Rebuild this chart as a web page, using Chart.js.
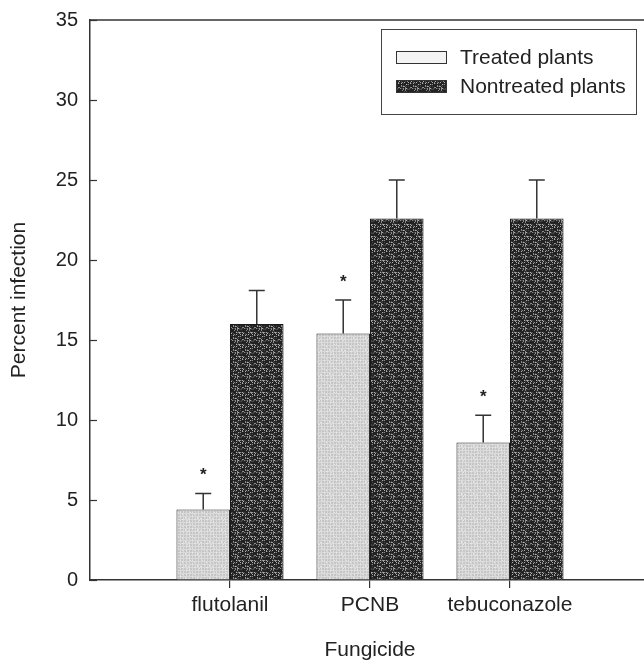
<!DOCTYPE html>
<html>
<head>
<meta charset="utf-8">
<script src="https://cdn.jsdelivr.net/npm/chart.js@4/dist/chart.umd.min.js"></script>
<style>
  html, body { margin: 0; padding: 0; background: #fff; overflow: hidden; }
  #wrap { width: 660px; height: 665px; }
</style>
</head>
<body>
<div id="wrap"><canvas id="chart" width="660" height="665"></canvas></div>
<script>
// data
var categories = ["flutolanil", "PCNB", "tebuconazole"];
var treated = [4.4, 15.4, 8.6];
var treatedErr = [1.0, 2.1, 1.7];
var nontreated = [16.0, 22.6, 22.6];
var nontreatedErr = [2.1, 2.4, 2.4];
var significant = [true, true, true];
var yTicks = [0, 5, 10, 15, 20, 25, 30, 35];

var FONT = "'Liberation Sans', Arial, Helvetica, sans-serif";

// small textured fills, like the scanned original
function makePattern(kind) {
  var c = document.createElement("canvas");
  c.width = 12;
  c.height = 12;
  var g = c.getContext("2d");
  for (var i = 0; i < 12; i++) {
    for (var j = 0; j < 12; j++) {
      var h = ((i * 73856093) ^ (j * 19349663) ^ (i * j * 83492791)) >>> 0;
      var v = h % 100;
      if (kind === "light") {
        var col = (i % 3 === 0 || j % 3 === 0) ? "#dadada" : "#c6c6c6";
        if (v < 8) col = "#e6e6e6";
        g.fillStyle = col;
      } else {
        var d = "#222222";
        if (v < 13) d = "#8c8c8c";
        else if (v < 30) d = "#454545";
        else if (v < 35) d = "#b0b0b0";
        g.fillStyle = d;
      }
      g.fillRect(i, j, 1, 1);
    }
  }
  return c;
}

var ctx = document.getElementById("chart").getContext("2d");
var lightFill = ctx.createPattern(makePattern("light"), "repeat");
var darkFill = ctx.createPattern(makePattern("dark"), "repeat");

function toPoints(vals) {
  return vals.map(function(v, i) {
    return { x: i + 1, y: v };
  });
}

var extras = {
  id: "extras",
  afterDatasetsDraw: function(chart) {
    var c = chart.ctx;
    var ys = chart.scales.y;
    var area = chart.chartArea;
    var errs = [treatedErr, nontreatedErr];
    c.save();

    // frame top line
    c.strokeStyle = "#333";
    c.lineWidth = 1.5;
    c.beginPath();
    c.moveTo(area.left, area.top);
    c.lineTo(chart.width, area.top);
    c.stroke();

    // inward y ticks
    c.lineWidth = 1.2;
    yTicks.forEach(function(t) {
      var py = Math.round(ys.getPixelForValue(t)) + 0.5;
      c.beginPath();
      c.moveTo(area.left, py);
      c.lineTo(area.left + 7, py);
      c.stroke();
    });

    // error bars (upper only) and significance stars
    chart.data.datasets.forEach(function(ds, di) {
      var meta = chart.getDatasetMeta(di);
      meta.data.forEach(function(bar, i) {
        var top = ys.getPixelForValue(ds.data[i].y + errs[di][i]);
        c.strokeStyle = "#333";
        c.lineWidth = 1.5;
        c.beginPath();
        c.moveTo(bar.x, bar.y);
        c.lineTo(bar.x, top);
        c.moveTo(bar.x - 8, top);
        c.lineTo(bar.x + 8, top);
        c.stroke();
        if (di === 0 && significant[i]) {
          c.fillStyle = "#222";
          c.font = "bold 17px " + FONT;
          c.textAlign = "center";
          c.textBaseline = "middle";
          c.fillText("*", bar.x, top - 18);
        }
      });
    });

    // legend box
    c.strokeStyle = "#444";
    c.lineWidth = 1;
    c.strokeRect(381.5, 29.5, 255, 85);
    var sw = [
      { fill: "#f4f4f4", y: 51, label: chart.data.datasets[0].label },
      { fill: darkFill, y: 80, label: chart.data.datasets[1].label }
    ];
    sw.forEach(function(s) {
      c.fillStyle = s.fill;
      c.fillRect(396, s.y, 51, 13);
      c.strokeStyle = "#333";
      c.strokeRect(396.5, s.y + 0.5, 50, 12);
      c.fillStyle = "#222";
      c.font = "21px " + FONT;
      c.textAlign = "left";
      c.textBaseline = "middle";
      c.fillText(s.label, 460, s.y + 7);
    });
    c.restore();
  }
};

new Chart(ctx, {
  type: "bar",
  data: {
    datasets: [{
      label: "Treated plants",
      data: toPoints(treated),
      backgroundColor: lightFill,
      borderColor: "#2a2a2a",
      borderWidth: 1
    }, {
      label: "Nontreated plants",
      data: toPoints(nontreated),
      backgroundColor: darkFill,
      borderColor: "#1a1a1a",
      borderWidth: 1
    }]
  },
  plugins: [extras],
  options: {
    responsive: false,
    animation: false,
    categoryPercentage: 0.765,
    barPercentage: 1,
    layout: { padding: { top: 20, right: 10, left: 0, bottom: 0 } },
    plugins: {
      legend: { display: false },
      tooltip: { enabled: false }
    },
    scales: {
      x: {
        type: "linear",
        min: 0,
        max: 4,
        offset: false,
        afterFit: function(scale) {
          scale.height = 85;
          scale.paddingLeft = 0;
          scale.paddingRight = 0;
        },
        afterBuildTicks: function(scale) {
          scale.ticks = [1, 2, 3].map(function(v) { return { value: v }; });
        },
        grid: {
          offset: false,
          drawOnChartArea: false,
          drawTicks: true,
          tickLength: 8,
          color: "#333",
          lineWidth: 1.2
        },
        border: { display: true, color: "#333", width: 1.5 },
        ticks: {
          padding: 5,
          color: "#222",
          font: { family: FONT, size: 21 },
          maxRotation: 0,
          callback: function(v) { return categories[v - 1] || ""; }
        },
        title: {
          display: true,
          text: "Fungicide",
          color: "#222",
          font: { family: FONT, size: 21 },
          padding: { top: 0, bottom: 2 }
        }
      },
      y: {
        min: 0,
        max: 35,
        afterFit: function(scale) {
          scale.width = 90;
          scale.paddingTop = 0;
          scale.paddingBottom = 0;
        },
        afterBuildTicks: function(scale) {
          scale.ticks = yTicks.map(function(v) { return { value: v }; });
        },
        grid: { drawOnChartArea: false, drawTicks: false },
        border: { display: true, color: "#333", width: 1.5 },
        ticks: {
          padding: 12,
          color: "#222",
          font: { family: FONT, size: 20 }
        },
        title: {
          display: true,
          text: "Percent infection",
          color: "#222",
          font: { family: FONT, size: 21 },
          padding: { top: 7, bottom: 0 }
        }
      }
    }
  }
});
</script>
</body>
</html>
